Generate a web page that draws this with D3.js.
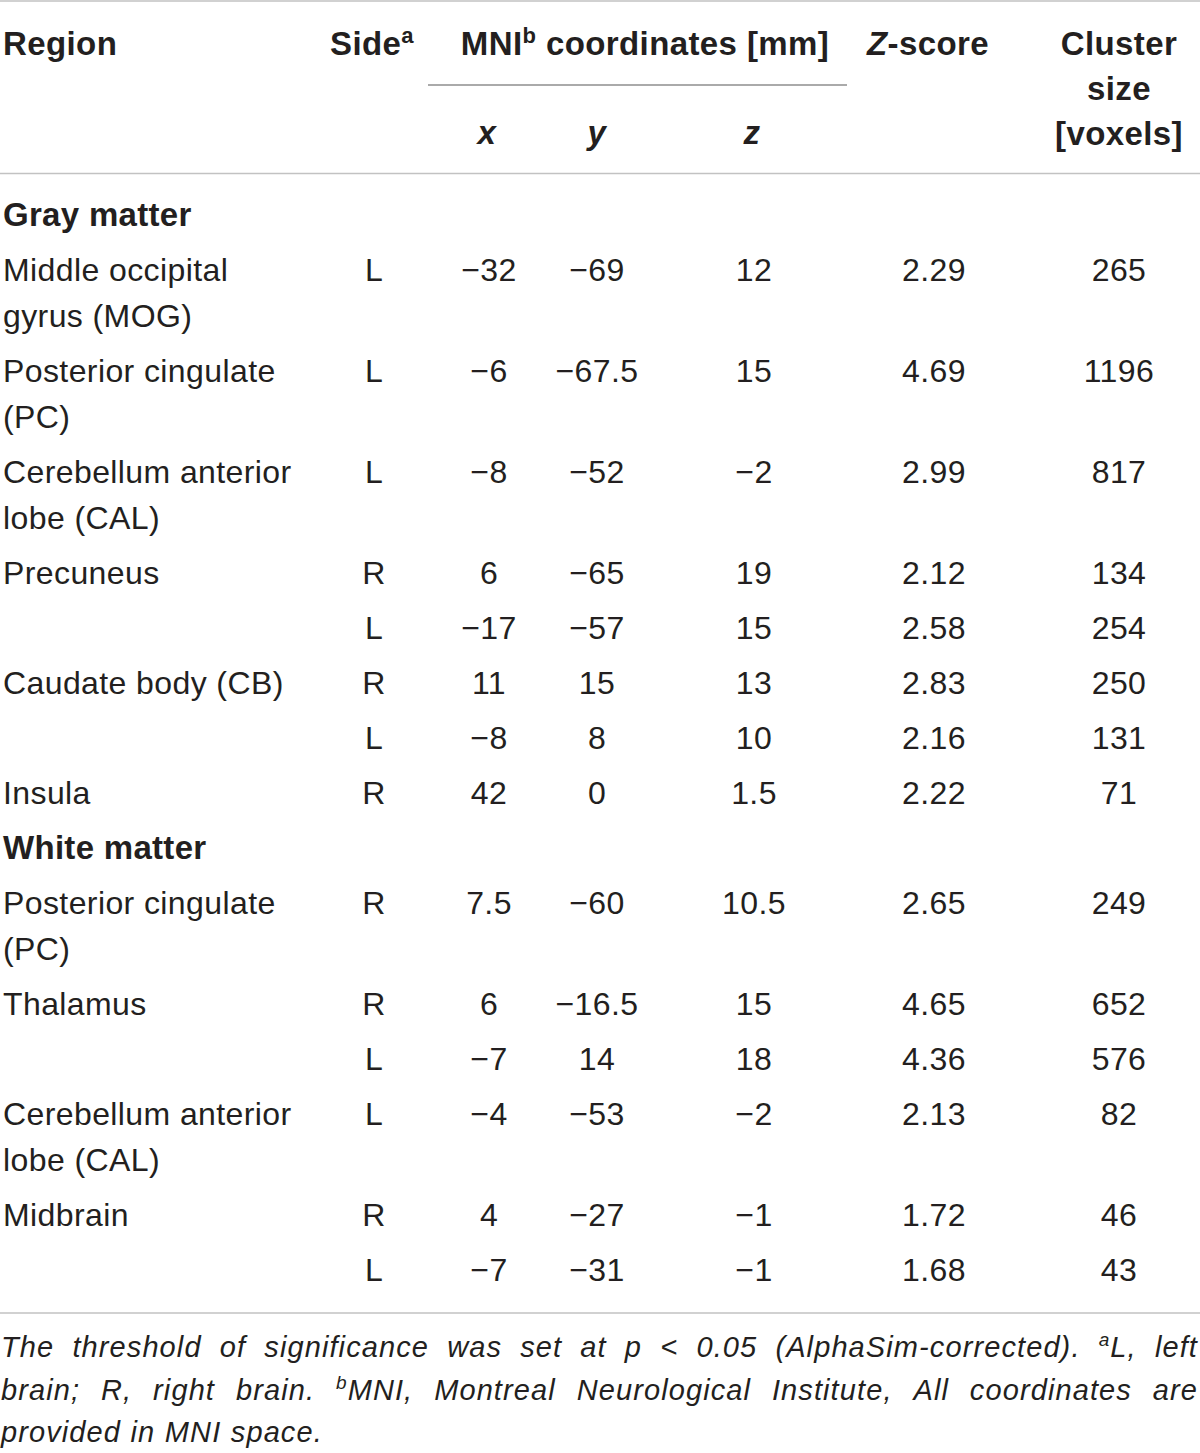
<html>

<head>
    <title>MNI clusters table</title>
    <script src='https://d3js.org/d3.v7.min.js'></script>
    <style>
        body { margin: 0; background: #fff; }
    </style>
</head>

<body>
    <script>
        var sections = ['Gray matter', 'White matter'];
        var rowSection = [0, 0, 0, 0, 0, 0, 0, 0, 1, 1, 1, 1, 1, 1];
        var rowRegion = [
            ['Middle occipital', 'gyrus (MOG)'],
            ['Posterior cingulate', '(PC)'],
            ['Cerebellum anterior', 'lobe (CAL)'],
            ['Precuneus'],
            [],
            ['Caudate body (CB)'],
            [],
            ['Insula'],
            ['Posterior cingulate', '(PC)'],
            ['Thalamus'],
            [],
            ['Cerebellum anterior', 'lobe (CAL)'],
            ['Midbrain'],
            []
        ];
        var side = ['L', 'L', 'L', 'R', 'L', 'R', 'L', 'R', 'R', 'R', 'L', 'L', 'R', 'L'];
        var coordX = [-32, -6, -8, 6, -17, 11, -8, 42, 7.5, 6, -7, -4, 4, -7];
        var coordY = [-69, -67.5, -52, -65, -57, 15, 8, 0, -60, -16.5, 14, -53, -27, -31];
        var coordZ = [12, 15, -2, 19, 15, 13, 10, 1.5, 10.5, 15, 18, -2, -1, -1];
        var zScore = [2.29, 4.69, 2.99, 2.12, 2.58, 2.83, 2.16, 2.22, 2.65, 4.65, 4.36, 2.13, 1.72, 1.68];
        var clusterSize = [265, 1196, 817, 134, 254, 250, 131, 71, 249, 652, 576, 82, 46, 43];

        var footLines = [
            'The threshold of significance was set at p < 0.05 (AlphaSim-corrected). ^aL, left',
            'brain; R, right brain. ^bMNI, Montreal Neurological Institute, All coordinates are',
            'provided in MNI space.'
        ];

        var width = 1200,
            height = 1453;
        var ink = '#231f20';
        var sans = "'Liberation Sans', Arial, Helvetica, sans-serif";

        var svg = d3.select('body')
            .append('svg')
            .attr('width', width)
            .attr('height', height)
            .style('font-family', sans);

        // column centres
        var cols = ['side', 'x', 'y', 'z', 'zs', 'cl'];
        var colX = d3.scaleOrdinal()
            .domain(cols)
            .range([374, 489, 597, 754, 934, 1119]);

        function fmt(v) {
            return String(v).replace('-', '\u2212');
        }

        // ---- rules ----
        var rules = svg.append('g');
        rules.append('line').attr('x1', 0).attr('x2', width).attr('y1', 1).attr('y2', 1)
            .attr('stroke', '#c2c2c2').attr('stroke-width', 1.6);
        rules.append('line').attr('x1', 428).attr('x2', 847).attr('y1', 85).attr('y2', 85)
            .attr('stroke', '#8e8e8e').attr('stroke-width', 1.4);
        rules.append('line').attr('x1', 0).attr('x2', width).attr('y1', 173.5).attr('y2', 173.5)
            .attr('stroke', '#c2c2c2').attr('stroke-width', 1.6);
        rules.append('line').attr('x1', 0).attr('x2', width).attr('y1', 1313).attr('y2', 1313)
            .attr('stroke', '#c2c2c2').attr('stroke-width', 1.6);

        // ---- header ----
        var head = svg.append('g')
            .attr('fill', ink)
            .style('font-weight', 'bold')
            .style('font-size', '33px')
            .style('letter-spacing', '0.4px');

        head.append('text').attr('x', 3).attr('y', 55).text('Region');

        var sideH = head.append('text').attr('x', 372).attr('y', 55).attr('text-anchor', 'middle');
        sideH.append('tspan').text('Side');
        sideH.append('tspan').attr('dy', -12).style('font-size', '22px').text('a');

        var mni = head.append('text').attr('x', 645).attr('y', 55).attr('text-anchor', 'middle');
        mni.append('tspan').text('MNI');
        mni.append('tspan').attr('dy', -12).style('font-size', '22px').text('b');
        mni.append('tspan').attr('dy', 12).text(' coordinates [mm]');

        var zh = head.append('text').attr('x', 928).attr('y', 55).attr('text-anchor', 'middle');
        zh.append('tspan').style('font-style', 'italic').text('Z');
        zh.append('tspan').text('-score');

        head.selectAll('text.cl')
            .data(['Cluster', 'size', '[voxels]'])
            .enter()
            .append('text')
            .attr('class', 'cl')
            .attr('x', colX('cl'))
            .attr('y', function (d, i) { return 55 + i * 45; })
            .attr('text-anchor', 'middle')
            .text(function (d) { return d; });

        head.selectAll('text.ax')
            .data([['x', 487], ['y', 597], ['z', 752]])
            .enter()
            .append('text')
            .attr('class', 'ax')
            .attr('x', function (d) { return d[1]; })
            .attr('y', 144)
            .attr('text-anchor', 'middle')
            .style('font-style', 'italic')
            .text(function (d) { return d[0]; });

        // ---- body rows: work out baselines from the data ----
        var rowStep = 55, wrapStep = 46, y0 = 226;
        var lines = [];   // section headings
        var rows = [];
        var cur = 0, lastSec = -1;
        rowSection.forEach(function (s, i) {
            if (s !== lastSec) {
                lines.push({ label: sections[s], off: cur });
                cur += rowStep;
                lastSec = s;
            }
            rows.push({
                i: i, off: cur, region: rowRegion[i], side: side[i],
                x: coordX[i], y: coordY[i], z: coordZ[i], zs: zScore[i], cl: clusterSize[i]
            });
            cur += rowStep + wrapStep * Math.max(0, rowRegion[i].length - 1);
        });

        var yScale = d3.scaleLinear().domain([0, cur]).range([y0, y0 + cur]);

        svg.append('g')
            .selectAll('text')
            .data(lines)
            .enter()
            .append('text')
            .attr('x', 3)
            .attr('y', function (d) { return yScale(d.off); })
            .attr('fill', ink)
            .style('font-weight', 'bold')
            .style('font-size', '33px')
            .style('letter-spacing', '0.3px')
            .text(function (d) { return d.label; });

        var body = svg.append('g')
            .attr('fill', ink)
            .style('font-size', '32px')
            .style('letter-spacing', '0.4px');

        var rowG = body.selectAll('g.row')
            .data(rows)
            .enter()
            .append('g')
            .attr('class', 'row')
            .attr('transform', function (d) { return 'translate(0,' + yScale(d.off) + ')'; });

        rowG.selectAll('text.reg')
            .data(function (d) { return d.region; })
            .enter()
            .append('text')
            .attr('class', 'reg')
            .attr('x', 3)
            .attr('y', function (d, j) { return j * wrapStep; })
            .text(function (d) { return d; });

        rowG.selectAll('text.val')
            .data(function (d) {
                return [
                    ['side', d.side],
                    ['x', fmt(d.x)],
                    ['y', fmt(d.y)],
                    ['z', fmt(d.z)],
                    ['zs', d.zs.toFixed(2)],
                    ['cl', String(d.cl)]
                ];
            })
            .enter()
            .append('text')
            .attr('class', 'val')
            .attr('x', function (d) { return colX(d[0]); })
            .attr('y', 0)
            .attr('text-anchor', 'middle')
            .text(function (d) { return d[1]; });

        // ---- footnote, justified word by word ----
        var foot = svg.append('g')
            .attr('fill', ink)
            .style('font-style', 'italic')
            .style('font-size', '29px')
            .style('letter-spacing', '1.1px');

        var footY = [1357, 1400, 1442];
        var left = 1, right = 1198;

        footLines.forEach(function (line, li) {
            var words = line.split(' ');
            var g = foot.append('g');
            var nodes = words.map(function (w) {
                var t = g.append('text').attr('y', footY[li]);
                if (w[0] === '^') {
                    t.append('tspan').attr('dy', -11).style('font-size', '19px').text(w[1]);
                    t.append('tspan').attr('dy', 11).text(w.slice(2));
                } else {
                    t.text(w);
                }
                return t;
            });
            var widths = nodes.map(function (t) { return t.node().getComputedTextLength(); });
            var total = d3.sum(widths);
            var justify = li < footLines.length - 1;
            var gap = justify ? (right - left - total) / (words.length - 1) : 9.5;
            var x = left;
            nodes.forEach(function (t, k) {
                t.attr('x', x);
                x += widths[k] + gap;
            });
        });
    </script>
</body>

</html>
